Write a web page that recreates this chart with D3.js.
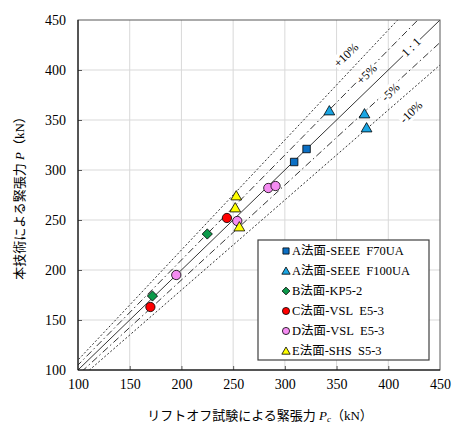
<!DOCTYPE html>
<html>
<head>
<meta charset="utf-8">
<script src="https://cdn.jsdelivr.net/npm/d3@7"></script>
<style>
  body { margin: 0; background: #fff; }
  svg { display: block; }
</style>
</head>
<body>
<div id="container"></div>
<script>
// series (x = lift-off P_c, y = this method P), kN
const seriesA70 = [[309, 308], [321, 321]]
const seriesA100 = [[343, 359], [377, 356], [379, 342]]
const seriesB = [[225, 236], [172, 174]]
const seriesC = [[244, 252], [170, 163]]
const seriesD = [[284, 282], [291, 284], [254, 249], [195, 195]]
const seriesE = [[253, 274], [252, 262], [256, 243]]

const seriesNames = ["A法面-SEEE\u00a0\u00a0F70UA", "A法面-SEEE\u00a0\u00a0F100UA", "B法面-KP5-2",
    "C法面-VSL\u00a0\u00a0E5-3", "D法面-VSL\u00a0\u00a0E5-3", "E法面-SHS\u00a0\u00a0S5-3"]
const seriesData = [seriesA70, seriesA100, seriesB, seriesC, seriesD, seriesE]
const seriesShapes = ["square", "triangle", "diamond", "circle", "circle", "triangle"]
const seriesColors = ["#0b6fc4", "#1aa6e4", "#0c9a4a", "#ff0000", "#f58cf2", "#ffff00"]

// reference lines y = k * x
const ratios = [1.1, 1.05, 1.0, 0.95, 0.9]
const ratioDash = ["2,2", "7,3,1.5,3", null, "7,3,1.5,3", "2,2"]
// line labels placed in data units
const ratioLabels = [
    {text: "+10%", x: 359, y: 415},
    {text: "+5%", x: 379, y: 396},
    {text: "1 : 1", x: 422, y: 423},
    {text: "-5%", x: 402, y: 378},
    {text: "-10%", x: 422, y: 358}
]

const ticks = [100, 150, 200, 250, 300, 350, 400, 450]

const width = 454, height = 426
const marginLeft = 78, marginRight = 14, marginTop = 20, marginBottom = 56
const serif = "'Liberation Serif', 'Times New Roman', 'Noto Sans CJK JP', serif"

const x = d3.scaleLinear().domain([100, 450]).range([marginLeft, width - marginRight])
const y = d3.scaleLinear().domain([100, 450]).range([height - marginBottom, marginTop])

const svg = d3.create("svg").attr("width", width).attr("height", height)
container.append(svg.node())

svg.append("defs").append("clipPath").attr("id", "plot-clip")
    .append("rect")
    .attr("x", x(100)).attr("y", y(450))
    .attr("width", x(450) - x(100)).attr("height", y(100) - y(450))

// grid
svg.append("g").selectAll("line").data(ticks.slice(1, -1)).join("line")
    .attr("x1", d => x(d)).attr("x2", d => x(d))
    .attr("y1", y(100)).attr("y2", y(450))
    .attr("stroke", "#d9d9d9").attr("stroke-width", 1)
svg.append("g").selectAll("line").data(ticks.slice(1, -1)).join("line")
    .attr("y1", d => y(d)).attr("y2", d => y(d))
    .attr("x1", x(100)).attr("x2", x(450))
    .attr("stroke", "#d9d9d9").attr("stroke-width", 1)

// axes, ticks pointing inward
const xAxis = svg.append("g")
    .attr("transform", `translate(0,${y(100)})`)
    .call(d3.axisBottom(x).tickValues(ticks).tickSize(-4).tickPadding(9))
const yAxis = svg.append("g")
    .attr("transform", `translate(${x(100)},0)`)
    .call(d3.axisLeft(y).tickValues(ticks).tickSize(-4).tickPadding(12))
;[xAxis, yAxis].forEach(g => {
    g.select(".domain").remove()
    g.selectAll(".tick line").attr("stroke", "#595959")
    g.selectAll("text").style("font-family", serif).style("font-size", "14px").attr("fill", "#000")
    g.selectAll(".tick line").filter(d => d === 100 || d === 450).remove()
})

// reference lines
const lineGroup = svg.append("g").attr("clip-path", "url(#plot-clip)")
ratios.forEach((k, i) => {
    lineGroup.append("line")
        .attr("x1", x(0)).attr("y1", y(0))
        .attr("x2", x(500)).attr("y2", y(500 * k))
        .attr("stroke", "#000")
        .attr("stroke-width", 0.8)
        .attr("stroke-dasharray", ratioDash[i])
})

// line labels with a white box that breaks the line
const angle = Math.atan2(y(0) - y(100), x(100) - x(0)) * 180 / Math.PI
ratioLabels.forEach(l => {
    const g = svg.append("g")
        .attr("transform", `translate(${x(l.x)},${y(l.y)}) rotate(${-angle})`)
    const bg = g.append("rect").attr("fill", "#fff")
    const t = g.append("text")
        .attr("text-anchor", "middle")
        .attr("dy", "0.35em")
        .style("font-family", serif)
        .style("font-size", "12px")
        .text(l.text)
    const b = t.node().getBBox()
    bg.attr("x", b.x - 1).attr("y", b.y)
        .attr("width", b.width + 2).attr("height", b.height)
})

// plot frame
svg.append("rect")
    .attr("x", x(100)).attr("y", y(450))
    .attr("width", x(450) - x(100)).attr("height", y(100) - y(450))
    .attr("fill", "none").attr("stroke", "#595959").attr("stroke-width", 1)
svg.append("line")
    .attr("x1", x(100)).attr("x2", x(100)).attr("y1", y(100)).attr("y2", y(450))
    .attr("stroke", "#000")
svg.append("line")
    .attr("x1", x(100)).attr("x2", x(450)).attr("y1", y(100)).attr("y2", y(100))
    .attr("stroke", "#000")

// size = area of the symbol in px^2
function drawMarker(g, shape, color, size) {
    let sym
    if (shape === "square") sym = d3.symbol(d3.symbolSquare, size)
    else if (shape === "triangle") sym = d3.symbol(d3.symbolTriangle, size)
    else if (shape === "diamond") sym = d3.symbol(d3.symbolSquare, size)
    else sym = d3.symbol(d3.symbolCircle, size)
    const p = g.append("path")
        .attr("d", sym())
        .attr("fill", color)
        .attr("stroke", "#000")
        .attr("stroke-width", 0.8)
    if (shape === "diamond") p.attr("transform", "rotate(45)")
    if (shape === "triangle") p.attr("transform", "translate(0,0.8)")
    return p
}

// points
const pointSizes = {square: 56, triangle: 50, diamond: 52, circle: 68}
seriesData.forEach((data, i) => {
    data.forEach(d => {
        const g = svg.append("g").attr("transform", `translate(${x(d[0])},${y(d[1])})`)
        drawMarker(g, seriesShapes[i], seriesColors[i], pointSizes[seriesShapes[i]])
    })
})

// legend
const legend = svg.append("g").attr("transform", "translate(258,240)")
legend.append("rect")
    .attr("width", 171).attr("height", 120)
    .attr("fill", "#fff").attr("stroke", "#404040").attr("stroke-width", 1.2)
const legendSizes = {square: 38, triangle: 30, diamond: 30, circle: 40}
seriesNames.forEach((name, i) => {
    const row = legend.append("g").attr("transform", `translate(28,${11 + i * 20})`)
    drawMarker(row, seriesShapes[i], seriesColors[i], legendSizes[seriesShapes[i]])
    row.append("text")
        .attr("x", 6)
        .attr("dy", "0.35em")
        .style("font-family", serif)
        .style("font-size", "12.5px")
        .text(name)
})

// axis titles
const xTitle = svg.append("text")
    .attr("x", (x(100) + x(450)) / 2 + 1)
    .attr("y", 420)
    .attr("text-anchor", "middle")
    .style("font-family", serif)
    .style("font-size", "13px")
xTitle.append("tspan").text("リフトオフ試験による緊張力 ")
xTitle.append("tspan").style("font-style", "italic").text("P")
xTitle.append("tspan").attr("dy", 2).style("font-size", "9px").style("font-style", "italic").text("c")
xTitle.append("tspan").attr("dy", -2).text("（kN）")

const yTitle = svg.append("text")
    .attr("transform", `translate(24,${(y(100) + y(450)) / 2}) rotate(-90)`)
    .attr("text-anchor", "middle")
    .style("font-family", serif)
    .style("font-size", "13px")
yTitle.append("tspan").text("本技術による緊張力 ")
yTitle.append("tspan").style("font-style", "italic").text("P")
yTitle.append("tspan").text("（kN）")
</script>
</body>
</html>
